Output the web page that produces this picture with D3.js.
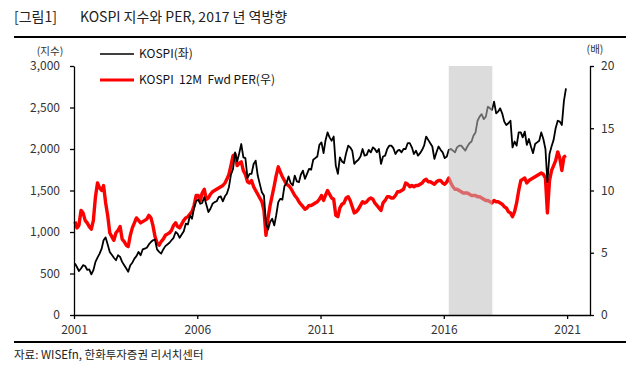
<!DOCTYPE html>
<html>
<head>
<meta charset="utf-8">
<script src="https://d3js.org/d3.v7.min.js"></script>
<style>
  body { margin: 0; background: #fff; }
  text { font-family: "Noto Sans CJK KR", "Noto Sans", sans-serif; }
</style>
</head>
<body>
<div id="chart"></div>
<script>
// monthly data, Jan 2001 .. Dec 2020
var startMonth = "2001-01";
var kospi = [
  620, 575, 530, 560, 600, 590, 545, 550, 490, 540, 640, 690,
  740, 800, 900, 935, 850, 760, 725, 690, 660, 720, 700, 640,
  600, 560, 520, 600, 630, 680, 710, 760, 720, 790, 800, 810,
  850, 880, 900, 910, 790, 760, 740, 790, 830, 850, 870, 900,
  930, 1000, 980, 930, 970, 1010, 1100, 1090, 1200, 1160, 1290, 1370,
  1390, 1340, 1350, 1420, 1330, 1240, 1280, 1340, 1360, 1370, 1420, 1430,
  1370, 1430, 1460, 1540, 1690, 1760, 1960, 1850, 1950, 2060, 1900, 1890,
  1650, 1700, 1700, 1820, 1860, 1680, 1580, 1480, 1440, 1100, 1030, 1120,
  1160, 1080, 1200, 1360, 1400, 1390, 1550, 1590, 1670, 1590, 1560, 1680,
  1610, 1600, 1690, 1740, 1640, 1700, 1760, 1750, 1870, 1890, 1910, 2050,
  2080, 1950, 2100, 2200, 2140, 2100, 2150, 1800, 1700, 1900, 1850, 1830,
  1950, 2040, 2020, 1980, 1820, 1850, 1870, 1910, 2000, 1920, 1930, 1990,
  1960, 2020, 2000, 1960, 2000, 1820, 1910, 1920, 2000, 2040, 2040, 2010,
  1940, 1980, 1990, 1960, 2000, 2000, 2070, 2070, 2020, 1940, 1980, 1920,
  1950, 1990, 2040, 2150, 2110, 2070, 2030, 1880, 1960, 2030, 1990, 1960,
  1890, 1910, 1990, 2000, 1980, 1960, 2020, 2040, 2040, 2010, 1980, 2030,
  2070, 2090, 2160, 2200, 2340, 2390, 2420, 2360, 2390, 2510, 2490, 2470,
  2570, 2430, 2450, 2490, 2430, 2330, 2290, 2310, 2340, 2020, 2090, 2040,
  2200, 2200, 2140, 2210, 2050, 2120, 2030, 1950, 2060, 2080, 2100, 2200,
  2120, 2000, 1600, 1940, 2030, 2110, 2250, 2340, 2330, 2290, 2580, 2730
];
var per = [
  7.5, 7.0, 7.2, 8.4, 8.2, 7.6, 7.4, 7.1, 6.9, 7.6, 9.5, 10.6,
  10.2, 10.0, 10.4, 9.0, 8.0, 6.6, 6.3, 6.0, 6.6, 6.8, 7.1, 6.1,
  5.9, 5.6, 5.5, 6.4, 7.0, 7.4, 7.8, 7.6, 7.4, 7.5, 7.6, 7.7,
  8.0, 7.8, 7.2, 6.3, 5.8, 5.6, 5.9, 6.1, 6.4, 6.5, 6.6, 6.8,
  7.2, 7.4, 7.1, 7.0, 7.3, 7.6, 7.8, 7.9, 8.1, 8.3, 8.8, 9.6,
  9.6, 9.2, 9.8, 10.1, 9.3, 9.4, 9.7, 9.9, 10.0, 10.1, 10.2, 10.3,
  10.4, 10.6, 10.9, 11.3, 12.0, 12.8, 12.9, 12.0, 12.2, 12.3, 11.6, 11.3,
  10.7, 10.6, 10.8, 10.3, 10.0, 9.7, 9.4, 9.1, 8.4, 6.4, 7.8, 8.8,
  9.6, 10.4, 11.2, 11.9, 11.5, 11.1, 10.8, 10.5, 10.4, 10.2, 9.9, 9.6,
  9.4, 9.1, 8.9, 8.7, 8.5, 8.6, 8.8, 8.8, 8.9, 9.0, 9.1, 9.3,
  9.6, 9.2, 9.6, 10.0, 9.7, 9.4, 9.3, 8.0, 7.9, 8.6, 8.9, 9.0,
  9.4, 9.5, 9.2, 8.7, 8.2, 8.3, 8.5, 8.8, 9.1, 9.0, 9.1, 9.3,
  9.4, 9.3, 9.0, 8.8, 8.6, 8.4, 9.0, 9.2, 9.5, 9.5, 9.4, 9.4,
  9.6, 9.9, 9.9, 10.0, 10.1, 10.6, 10.5, 10.3, 10.4, 10.3, 10.4, 10.4,
  10.5, 10.6, 10.8, 10.9, 10.7, 10.7, 10.6, 10.5, 10.7, 10.8, 10.8, 10.6,
  10.5, 10.7, 11.0, 10.6, 10.3, 10.1, 10.1, 10.0, 9.9, 9.8, 9.8, 9.8,
  9.7, 9.6, 9.6, 9.6, 9.5, 9.5, 9.4, 9.3, 9.2, 9.2, 9.1, 9.0,
  9.2, 9.1, 9.1, 9.0, 8.9, 8.7, 8.6, 8.3, 8.2, 7.9, 8.3, 9.0,
  10.0, 10.8, 10.9, 11.0, 10.6, 10.8, 10.9, 11.0, 11.1, 11.2, 11.3, 11.4,
  11.3, 11.0, 8.2, 10.8, 11.6, 12.0, 12.4, 13.1, 12.6, 11.6, 12.7, 12.8
];
var xTicks = ["2001", "2006", "2011", "2016", "2021"];
var leftTicks = [0, 500, 1000, 1500, 2000, 2500, 3000];
var rightTicks = [0, 5, 10, 15, 20];
var shadeRange = ["2016-03-15", "2017-12-20"];

var W = 639, H = 378;
var plotL = 74, plotR = 590, plotT = 66, plotB = 315;

var svg = d3.select("#chart").append("svg")
  .attr("width", W)
  .attr("height", H);

var parseMonth = d3.timeParse("%Y-%m");
var parseDay = d3.timeParse("%Y-%m-%d");
var t0 = parseMonth(startMonth);
var dates = kospi.map(function(d, i) { return d3.timeDay.offset(d3.timeMonth.offset(t0, i), 14); });

var x = d3.scaleTime()
  .domain([new Date(2001, 0, 1), new Date(2021, 11, 6)])
  .range([plotL, plotR]);
var yL = d3.scaleLinear().domain([0, 3000]).range([plotB, plotT]);
var yR = d3.scaleLinear().domain([0, 20]).range([plotB, plotT]);

// title
svg.append("text").attr("x", 14).attr("y", 22)
  .style("font-size", "14px").attr("fill", "#222").text("[그림1]");
svg.append("text").attr("x", 80).attr("y", 22)
  .style("font-size", "14px").attr("fill", "#222").text("KOSPI 지수와 PER, 2017 년 역방향");
svg.append("line").attr("x1", 14).attr("x2", 626).attr("y1", 37).attr("y2", 37)
  .attr("stroke", "#000").attr("stroke-width", 2);
svg.append("line").attr("x1", 14).attr("x2", 626).attr("y1", 342).attr("y2", 342)
  .attr("stroke", "#000").attr("stroke-width", 2);
svg.append("text").attr("x", 14).attr("y", 359)
  .style("font-size", "11.5px").attr("fill", "#222").text("자료: WISEfn, 한화투자증권 리서치센터");

// lines
var perLine = d3.line()
  .x(function(d, i) { return x(dates[i]); })
  .y(function(d) { return yR(d); });
var kospiLine = d3.line()
  .x(function(d, i) { return x(dates[i]); })
  .y(function(d) { return yL(d); });

svg.append("path").datum(per)
  .attr("d", perLine).attr("fill", "none")
  .attr("stroke", "#ff0000").attr("stroke-width", 3.4).attr("stroke-linejoin", "round");
svg.append("path").datum(kospi)
  .attr("d", kospiLine).attr("fill", "none")
  .attr("stroke", "#000").attr("stroke-width", 1.8).attr("stroke-linejoin", "round");

// shaded period drawn over the lines
var s0 = parseDay(shadeRange[0]), s1 = parseDay(shadeRange[1]);
svg.append("rect")
  .attr("x", x(s0)).attr("y", plotT)
  .attr("width", x(s1) - x(s0)).attr("height", plotB - plotT)
  .attr("fill", "#c0c0c0").attr("opacity", 0.55);

// axes
var xAxis = d3.axisBottom(x)
  .tickValues(xTicks.map(function(d) { return new Date(+d, 0, 1); }))
  .tickFormat(d3.timeFormat("%Y"))
  .tickSize(4).tickSizeOuter(0).tickPadding(6);
var gx = svg.append("g").attr("transform", "translate(0," + plotB + ")").call(xAxis);

var gl = svg.append("g").attr("transform", "translate(" + plotL + ",0)")
  .call(d3.axisLeft(yL).tickValues(leftTicks).tickFormat(d3.format(","))
    .tickSize(4).tickSizeOuter(0).tickPadding(10));
var gr = svg.append("g").attr("transform", "translate(" + plotR + ",0)")
  .call(d3.axisRight(yR).tickValues(rightTicks)
    .tickSize(4).tickSizeOuter(0).tickPadding(7));

[gx, gl, gr].forEach(function(g) {
  g.select(".domain").attr("stroke", "#000").attr("stroke-width", 1.3);
  g.selectAll(".tick line").attr("stroke", "#000").attr("stroke-width", 1.3);
  g.selectAll(".tick text").attr("fill", "#333").style("font-size", "12px")
    .style("font-family", "'Noto Sans CJK KR', sans-serif");
});

svg.append("text").attr("x", 50).attr("y", 55).attr("text-anchor", "middle")
  .style("font-size", "10.5px").attr("fill", "#333").text("(지수)");
svg.append("text").attr("x", 595).attr("y", 53).attr("text-anchor", "middle")
  .style("font-size", "10.5px").attr("fill", "#333").text("(배)");

// legend
var legend = [
  { name: "KOSPI(좌)", color: "#000", w: 1.6, y: 54 },
  { name: "KOSPI  12M  Fwd PER(우)", color: "#ff0000", w: 3, y: 80 }
];
legend.forEach(function(l) {
  svg.append("line").attr("x1", 100).attr("x2", 134).attr("y1", l.y).attr("y2", l.y)
    .attr("stroke", l.color).attr("stroke-width", l.w);
  svg.append("text").attr("x", 139).attr("y", l.y + 4)
    .style("font-size", "12px").style("white-space", "pre").attr("fill", "#111").text(l.name);
});
</script>
</body>
</html>
